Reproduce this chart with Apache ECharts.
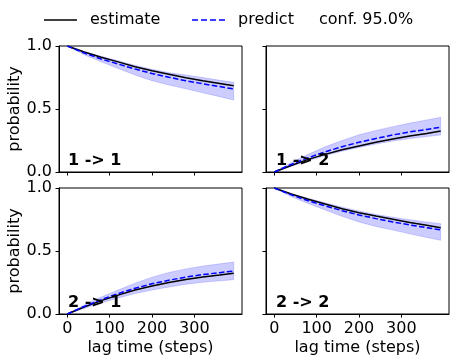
<!DOCTYPE html>
<html>
<head>
<meta charset="utf-8">
<script src="https://cdn.jsdelivr.net/npm/echarts@6/dist/echarts.min.js"></script>
<style>html,body{margin:0;padding:0;background:#fff}#c{width:460px;height:362px}</style>
</head>
<body>
<div id="c"></div>
<script>
const lags = [0, 40, 80, 120, 160, 200, 240, 280, 320, 360, 393];
const xTicks = [0, 100, 200, 300];
const yTicks = [0, 0.5, 1.0];
const panelLabels = ['1 -> 1', '1 -> 2', '2 -> 1', '2 -> 2'];

const est11  = [1.0, 0.952, 0.911, 0.874, 0.835, 0.804, 0.776, 0.748, 0.725, 0.703, 0.685];
const pred11 = [1.0, 0.944, 0.897, 0.857, 0.817, 0.782, 0.752, 0.724, 0.700, 0.678, 0.659];
const up11   = [1.0, 0.955, 0.918, 0.883, 0.846, 0.815, 0.788, 0.770, 0.750, 0.728, 0.712];
const lo11   = [1.0, 0.930, 0.875, 0.822, 0.770, 0.725, 0.690, 0.660, 0.628, 0.598, 0.571];

const est12  = [0, 0.052, 0.100, 0.140, 0.176, 0.207, 0.236, 0.262, 0.285, 0.306, 0.325];
const pred12 = [0, 0.060, 0.113, 0.160, 0.201, 0.236, 0.266, 0.294, 0.318, 0.338, 0.355];
const up12   = [0, 0.075, 0.140, 0.200, 0.250, 0.295, 0.330, 0.360, 0.388, 0.413, 0.434];
const lo12   = [0, 0.045, 0.090, 0.130, 0.165, 0.195, 0.222, 0.246, 0.265, 0.281, 0.294];

const est21  = [0, 0.056, 0.106, 0.150, 0.190, 0.222, 0.250, 0.274, 0.293, 0.309, 0.323];
const pred21 = [0, 0.060, 0.114, 0.162, 0.204, 0.240, 0.268, 0.293, 0.313, 0.328, 0.341];
const up21   = [0, 0.072, 0.135, 0.190, 0.245, 0.292, 0.330, 0.358, 0.380, 0.398, 0.412];
const lo21   = [0, 0.045, 0.088, 0.127, 0.162, 0.190, 0.214, 0.236, 0.252, 0.263, 0.272];

const est22  = [1.0, 0.952, 0.911, 0.873, 0.836, 0.804, 0.777, 0.752, 0.727, 0.704, 0.685];
const pred22 = [1.0, 0.946, 0.899, 0.859, 0.820, 0.786, 0.757, 0.731, 0.707, 0.685, 0.667];
const up22   = [1.0, 0.955, 0.918, 0.883, 0.848, 0.817, 0.790, 0.768, 0.748, 0.730, 0.717];
const lo22   = [1.0, 0.932, 0.877, 0.826, 0.775, 0.730, 0.695, 0.666, 0.636, 0.607, 0.585];

const panels = [
  {est: est11, pred: pred11, up: up11, lo: lo11},
  {est: est12, pred: pred12, up: up12, lo: lo12},
  {est: est21, pred: pred21, up: up21, lo: lo21},
  {est: est22, pred: pred22, up: up22, lo: lo22}
];

const FONT = 'DejaVu Sans';
const gridPos = [
  {left: 59, top: 46}, {left: 266, top: 46},
  {left: 59, top: 188}, {left: 266, top: 188}
];
const grids = gridPos.map(p => ({left: p.left, top: p.top, width: 183, height: 126,
  show: true, borderColor: '#000', borderWidth: 1, containLabel: false}));

const xAxes = gridPos.map((p, i) => ({
  type: 'value', gridIndex: i, min: -19.65, max: 412.65,
  splitLine: {show: false},
  axisLine: {show: true, onZero: false, lineStyle: {color: '#000', width: 1}},
  axisTick: {show: true, length: 3.5, lineStyle: {color: '#000'}, customValues: xTicks},
  axisLabel: {show: i >= 2, customValues: xTicks, color: '#000', fontSize: 16, fontFamily: FONT, margin: 7},
  name: i >= 2 ? 'lag time (steps)' : '', nameLocation: 'middle', nameGap: 26,
  nameTextStyle: {color: '#000', fontSize: 16, fontFamily: FONT}
}));
const yAxes = gridPos.map((p, i) => ({
  type: 'value', gridIndex: i, min: 0, max: 1, interval: 0.5,
  splitLine: {show: false},
  axisLine: {show: true, onZero: false, lineStyle: {color: '#000', width: 1}},
  axisTick: {show: true, length: 3.5, lineStyle: {color: '#000'}},
  axisLabel: {show: i % 2 === 0, color: '#000', fontSize: 16, fontFamily: FONT, margin: 7,
    formatter: v => v.toFixed(1)},
  name: i % 2 === 0 ? 'probability' : '', nameLocation: 'middle', nameGap: 36,
  nameTextStyle: {color: '#000', fontSize: 16, fontFamily: FONT}
}));

const series = [];
panels.forEach((p, i) => {
  series.push({
    type: 'custom', name: 'conf. 95.0%', xAxisIndex: i, yAxisIndex: i, silent: true, z: 1,
    itemStyle: {color: 'rgba(0,0,255,0.2)'},
    data: [[lags[0], p.lo[0]]],
    renderItem: function (params, api) {
      const pts = [];
      for (let k = 0; k < lags.length; k++) pts.push(api.coord([lags[k], p.up[k]]));
      for (let k = lags.length - 1; k >= 0; k--) pts.push(api.coord([lags[k], p.lo[k]]));
      return {type: 'polygon', shape: {points: pts},
        style: {fill: 'rgba(0,0,255,0.2)', stroke: 'rgba(0,0,255,0.2)', lineWidth: 0.8}};
    }
  });
  series.push({
    type: 'line', name: 'estimate', xAxisIndex: i, yAxisIndex: i, symbol: 'none', z: 3,
    lineStyle: {color: '#000', width: 1.5}, itemStyle: {color: '#000'},
    data: lags.map((x, k) => [x, p.est[k]])
  });
  series.push({
    type: 'line', name: 'predict', xAxisIndex: i, yAxisIndex: i, symbol: 'none', z: 4,
    lineStyle: {color: '#0000ff', width: 1.5, type: [5.5, 2.4]}, itemStyle: {color: '#0000ff'},
    data: lags.map((x, k) => [x, p.pred[k]])
  });
});

const legendCommon = {
  orient: 'horizontal', top: 12, padding: 0, itemWidth: 33, itemHeight: 1.5, selectedMode: false,
  textStyle: {color: '#000', fontSize: 16, fontFamily: FONT, padding: [0, 0, 0, 8]}
};
const dashPath = 'path://M0,0h60v15h-60z M90,0h60v15h-60z M180,0h60v15h-60z M270,0h60v15h-60z';
const legends = [
  Object.assign({}, legendCommon, {left: 44,
    data: [{name: 'estimate', icon: 'path://M0,0h330v15h-330z', itemStyle: {color: '#000'}}]}),
  Object.assign({}, legendCommon, {left: 192,
    data: [{name: 'predict', icon: dashPath, itemStyle: {color: '#0000ff'}}]}),
  Object.assign({}, legendCommon, {left: 305, itemWidth: 1,
    data: [{name: 'conf. 95.0%', icon: 'rect', itemStyle: {color: 'rgba(0,0,0,0)', borderWidth: 0, opacity: 0}}]})
];

const labelPos = [[68, 161], [276, 161], [68, 303], [276, 303]];
const graphics = panelLabels.map((t, i) => ({
  type: 'text', x: labelPos[i][0], y: labelPos[i][1], z: 10,
  style: {text: t, font: 'bold 16px "DejaVu Sans"', fill: '#000', textVerticalAlign: 'middle', textAlign: 'left'}
}));

const chart = echarts.init(document.getElementById('c'), null, {renderer: 'canvas'});
chart.setOption({
  animation: false,
  backgroundColor: '#fff',
  grid: grids,
  xAxis: xAxes,
  yAxis: yAxes,
  legend: legends,
  series: series,
  graphic: graphics
});
</script>
</body>
</html>
